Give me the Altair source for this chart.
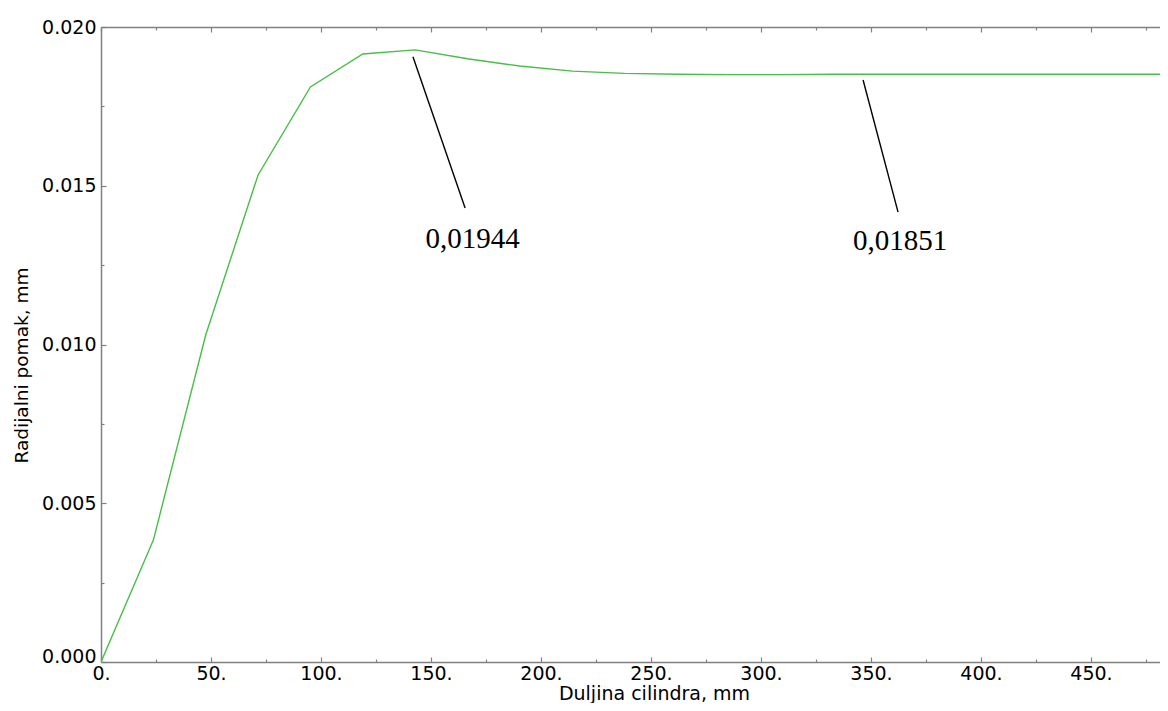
import altair as alt
import pandas as pd

# ---- data ----
x_mm = [0.0, 23.8, 47.6, 71.4, 95.2, 119.0, 142.8, 166.6, 190.4, 214.2, 238.0,
        261.8, 285.6, 309.4, 333.2, 357.0, 380.8, 404.6, 428.4, 452.2, 476.0, 499.8]
pomak = [0.0, 0.00384, 0.01030, 0.01534, 0.01811, 0.01915, 0.01928, 0.01900,
         0.01877, 0.01861, 0.01854, 0.01851, 0.01850, 0.01850, 0.01851, 0.01851,
         0.01851, 0.01851, 0.01851, 0.01851, 0.01851, 0.01851]

# annotation leader lines (data coordinates) and labels
lead_x1 = [141.8, 346.4]
lead_y1 = [0.01906, 0.01833]
lead_x2 = [165.5, 362.3]
lead_y2 = [0.01430, 0.01417]
lbl_x = [168.9, 363.2]
lbl_y = [0.01304, 0.01298]
lbl_text = ["0,01944", "0,01851"]

x_major = [0, 50, 100, 150, 200, 250, 300, 350, 400, 450]
x_all = [i * 25 for i in range(0, 20)]
y_major = [0.0, 0.005, 0.010, 0.015, 0.020]
y_all = [i * 0.0025 for i in range(0, 9)]

df = pd.DataFrame({"x": x_mm, "y": pomak})
lead = pd.DataFrame({"x1": lead_x1, "y1": lead_y1, "x2": lead_x2, "y2": lead_y2})
lbl = pd.DataFrame({"x": lbl_x, "y": lbl_y, "t": lbl_text})

W, H = 1059, 635
X_MAX = 1059 / 2.2
GRAY = "#808080"
FONT = "DejaVu Sans"

xs = alt.Scale(domain=[0, X_MAX], nice=False, zero=False)
ys = alt.Scale(domain=[0, 0.02], nice=False, zero=False)

x_tick_size = {"condition": {"test": "datum.value % 50 === 0", "value": 5}, "value": 3}
y_tick_size = {"condition": {"test": "abs(datum.value*200 - round(datum.value*200)) < 0.001",
                             "value": 5}, "value": 3}

line = alt.Chart(df).mark_line(color="#46bf46", strokeWidth=1.4, clip=True).encode(
    x=alt.X("x:Q", scale=xs, axis=alt.Axis(
        orient="bottom", values=x_major, labelExpr="format(datum.value, 'd') + '.'",
        ticks=False, tickSize=0, grid=False, domainColor=GRAY, domainWidth=1.5,
        labelFont=FONT, labelFontSize=19, labelColor="black", labelPadding=2,
        labelFlush=False, labelOverlap=False,
        title="Duljina cilindra, mm", titleFont=FONT, titleFontSize=19,
        titleFontWeight="normal", titleColor="black", titleX=553, titleY=37,
        titleBaseline="alphabetic", titleAlign="center")),
    y=alt.Y("y:Q", scale=ys, axis=alt.Axis(
        orient="left", values=y_major, format=".3f",
        ticks=False, tickSize=0, grid=False, domainColor=GRAY, domainWidth=1.5,
        labelFont=FONT, labelFontSize=19, labelColor="black", labelPadding=5,
        labelFlush=False, labelOverlap=False,
        labelOffset={"condition": {"test": "datum.value === 0", "value": -6}, "value": 0},
        title="Radijalni pomak, mm", titleFont=FONT, titleFontSize=18.5,
        titleFontWeight="normal", titleColor="black", titleX=-74, titleY=338,
        titleBaseline="alphabetic", titleAlign="center", titleAngle=270)),
)

rules = alt.Chart(lead).mark_rule(color="black", strokeWidth=1.4).encode(
    x=alt.X("x1:Q", scale=xs, axis=alt.Axis(
        orient="top", offset=-H, values=x_all, labels=False, domain=False, grid=False,
        ticks=True, tickSize=x_tick_size, tickColor=GRAY, tickWidth=1.2, title=None)),
    x2="x2:Q",
    y=alt.Y("y1:Q", scale=ys, axis=alt.Axis(
        orient="right", offset=-W, values=y_all, labels=False, domain=False, grid=False,
        ticks=True, tickSize=y_tick_size, tickColor=GRAY, tickWidth=1.2, title=None)),
    y2="y2:Q",
)

texts = alt.Chart(lbl).mark_text(
    font="Liberation Serif", fontSize=29, color="black", align="center", baseline="alphabetic"
).encode(
    x=alt.X("x:Q", scale=xs, axis=alt.Axis(
        orient="bottom", offset=-H, values=x_all, labels=False, domain=True,
        domainColor=GRAY, domainWidth=1.5, grid=False,
        ticks=True, tickSize=x_tick_size, tickColor=GRAY, tickWidth=1.2, title=None)),
    y=alt.Y("y:Q", scale=ys, axis=None),
    text="t:N",
)

chart = alt.layer(line, rules, texts).resolve_axis(
    x="independent", y="independent"
).properties(
    width=W, height=H,
    autosize=alt.AutoSizeParams(type="none"),
    padding={"left": 93, "top": 19, "right": 0, "bottom": 41},
).configure_view(stroke=None).configure(background="white")

chart.save("out.html", embed_options={"renderer": "svg", "actions": False})
